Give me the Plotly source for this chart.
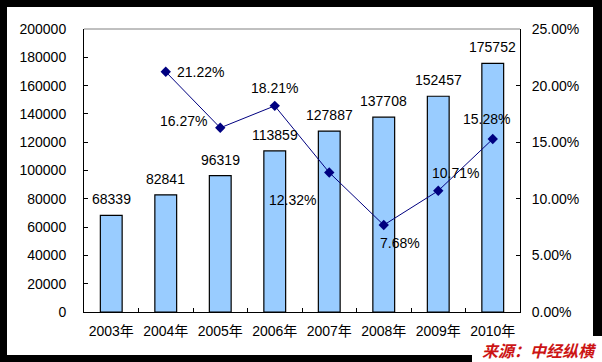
import plotly.graph_objects as go

years = ["2003年", "2004年", "2005年", "2006年", "2007年", "2008年", "2009年", "2010年"]
values = [68339, 82841, 96319, 113859, 127887, 137708, 152457, 175752]
growth = [None, 0.2122, 0.1627, 0.1821, 0.1232, 0.0768, 0.1071, 0.1528]
growth_labels = ["", "21.22%", "16.27%", "18.21%", "12.32%", "7.68%", "10.71%", "15.28%"]
left_ticks = list(range(0, 200001, 20000))
right_ticks = [0, 0.05, 0.10, 0.15, 0.20, 0.25]

FONT = "Liberation Sans, Arial, Noto Sans CJK SC, sans-serif"

fig = go.Figure()
fig.add_trace(go.Bar(
    x=years, y=values, width=0.4,
    marker=dict(color="#99CCFF", line=dict(color="#000000", width=1.2)),
    yaxis="y", showlegend=False, hoverinfo="skip",
))
fig.add_trace(go.Scatter(
    x=years, y=growth, mode="lines+markers", yaxis="y2",
    line=dict(color="#000080", width=1),
    marker=dict(symbol="diamond", size=8, color="#000080"),
    showlegend=False, hoverinfo="skip", connectgaps=False,
))

ann = []
for x, v in zip(years, values):
    ann.append(dict(x=x, y=v, xref="x", yref="y", text=str(v), showarrow=False,
                    yanchor="bottom", yshift=6, font=dict(family=FONT, size=14, color="#000")))

# label offsets (styling)
offs = [None, (35, 0), (-37, 7), (0, 18), (-37, -27), (16, -18), (17, 18), (-6, 20)]
for x, g, t, o in zip(years, growth, growth_labels, offs):
    if g is None:
        continue
    ann.append(dict(x=x, y=g, xref="x", yref="y2", text=t, showarrow=False,
                    xshift=o[0], yshift=o[1],
                    font=dict(family=FONT, size=14, color="#000")))

W, H = 602, 362
L, R, T, B = 84, 82, 29, 50
pw, ph = W - L - R, H - T - B

def px(xp):
    return (xp - L) / pw

def py(yp):
    return (H - B - yp) / ph

ann.append(dict(x=px(598), y=py(350), xref="paper", yref="paper", text="<b><i>来源：中经纵横</i></b>",
                showarrow=False, xanchor="right", yanchor="middle", borderpad=0,
                font=dict(family="Noto Sans CJK SC, sans-serif", size=16, color="#CC1414")))

shapes = []
black = "#000000"
for (x0, y0, x1, y1) in [(0, 0, 602, 7), (0, 0, 7, 362), (593, 0, 602, 336), (0, 355, 472, 362)]:
    shapes.append(dict(type="rect", xref="paper", yref="paper",
                       x0=px(x0), x1=px(x1), y0=py(y1), y1=py(y0),
                       fillcolor=black, line=dict(width=0), layer="above"))
# top border of plot area
shapes.append(dict(type="line", xref="paper", yref="paper", x0=0, x1=1, y0=1, y1=1,
                   line=dict(color="#808080", width=1)))

fig.update_layout(
    width=W, height=H,
    margin=dict(l=L, r=R, t=T, b=B, pad=0),
    paper_bgcolor="#FFFFFF", plot_bgcolor="#FFFFFF",
    font=dict(family=FONT, size=14, color="#000"),
    bargap=0.6,
    xaxis=dict(type="category", showline=True, linecolor="#000", linewidth=1,
               ticks="inside", ticklen=4, tickcolor="#000", tickson="boundaries",
               showgrid=False, tickfont=dict(size=14), ticklabelstandoff=6),
    yaxis=dict(range=[0, 200000], tickvals=left_ticks, ticktext=[str(v) for v in left_ticks],
               showline=True, linecolor="#000", linewidth=1, ticks="inside", ticklen=4,
               tickcolor="#000", showgrid=False, zeroline=False, ticklabelstandoff=14),
    yaxis2=dict(range=[0, 0.25], tickvals=right_ticks, tickformat=".2%", overlaying="y",
                side="right", showline=True, linecolor="#000", linewidth=1, ticks="inside",
                ticklen=4, tickcolor="#000", showgrid=False, zeroline=False,
                ticklabelstandoff=8),
    annotations=ann,
    shapes=shapes,
)

fig.write_html("out.html", config={"displayModeBar": False},
               post_script="document.body.style.margin='0';document.body.style.overflow='hidden';")
